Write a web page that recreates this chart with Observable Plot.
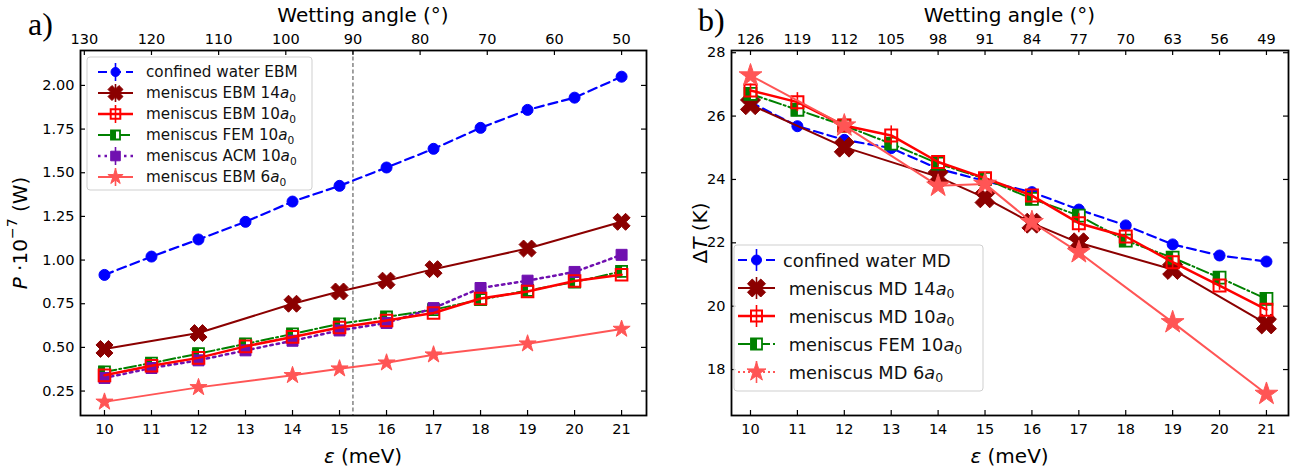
<!DOCTYPE html>
<html><head><meta charset="utf-8">
<script src="https://cdn.jsdelivr.net/npm/d3@7"></script>
<script src="https://cdn.jsdelivr.net/npm/@observablehq/plot@0.6"></script>
<style>
body{margin:0;background:#fff;}
#fig{position:relative;width:1303px;height:474px;overflow:hidden;background:#fff;}
#fig svg{position:absolute;top:0;overflow:visible;}
</style></head><body><div id="fig"></div>
<script>
// ---------- data ----------
const eps = [10,11,12,13,14,15,16,17,18,19,20,21];
const epsSub = [10,12,14,15,16,17,19,21];

// panel a: P (10^-7 W)
const aConfinedEBM = [0.915,1.02,1.118,1.219,1.335,1.425,1.53,1.637,1.757,1.86,1.93,2.05];
const aEBM14 = [0.491,0.582,0.75,0.82,0.882,0.948,1.066,1.219];
const aEBM10 = [0.34,0.395,0.44,0.506,0.56,0.614,0.654,0.697,0.78,0.82,0.88,0.916];
const aFEM10 = [0.36,0.41,0.464,0.52,0.577,0.635,0.674,0.716,0.773,0.826,0.874,0.935];
const aACM10 = [0.325,0.382,0.426,0.483,0.538,0.597,0.64,0.725,0.84,0.882,0.932,1.03];
const aEBM6 = [0.188,0.271,0.34,0.378,0.412,0.458,0.521,0.605];
const aYTicks = [0.25,0.5,0.75,1.0,1.25,1.5,1.75,2.0];
const aAngleTicks = [130,120,110,100,90,80,70,60,50];
const aDashedAngle = 90;

// panel b: Delta T (K)
const bConfinedMD = [26.44,25.68,25.25,24.99,24.34,23.95,23.6,23.05,22.55,21.95,21.6,21.41];
const bMD14 = [26.36,25.02,24.08,23.42,22.62,22.0,21.16,19.44];
const bMD10 = [26.81,26.44,25.7,25.39,24.55,24.04,23.49,22.62,22.2,21.39,20.65,19.89];
const bMD10Err = [0.2,0.3,0.15,0.3,0.15,0.15,0.15,0.3,0.15,0.2,0.15,0.2];
const bFEM10 = [26.7,26.2,25.7,25.13,24.5,24.02,23.39,22.86,22.07,21.53,20.9,20.23];
const bMD6 = [27.28,25.7,23.8,23.86,22.65,21.7,19.49,17.23];
const bYTicks = [18,20,22,24,26,28];
const bAngleTicks = [126,119,112,105,98,91,84,77,70,63,56,49];

// ---------- helpers ----------
const W = 1303, H = 474;
const FONT = "DejaVu Sans";
const C = {blue:"#0000ff", dark:"#8b0000", red:"#ff0000", green:"#008000", purple:"#7010b0", salmon:"#ff5555"};

function mk(fn){return {draw(c,size){fn(c,Math.sqrt(size/Math.PI));}};}
const symCircle = mk((c,r)=>{c.moveTo(r,0);c.arc(0,0,r,0,2*Math.PI);});
const symSquare = mk((c,r)=>{c.moveTo(-r,-r);c.lineTo(r,-r);c.lineTo(r,r);c.lineTo(-r,r);c.closePath();});
const symHalf = mk((c,r)=>{c.moveTo(-r,-r);c.lineTo(0,-r);c.lineTo(0,r);c.lineTo(-r,r);c.closePath();});
const symStar = mk((c,r)=>{const ri=r*0.382;for(let i=0;i<10;i++){const a=-Math.PI/2+i*Math.PI/5,rr=i%2?ri:r,x=rr*Math.cos(a),y=rr*Math.sin(a);i?c.lineTo(x,y):c.moveTo(x,y);}c.closePath();});
const symX = mk((c,r)=>{const L=r*Math.SQRT2/1.36,w=0.36*L;
  const pts=[[-w,-L],[w,-L],[w,-w],[L,-w],[L,w],[w,w],[w,L],[-w,L],[-w,w],[-L,w],[-L,-w],[-w,-w]];
  pts.forEach(([x,y],i)=>{const X=(x-y)/Math.SQRT2,Y=(x+y)/Math.SQRT2;i?c.lineTo(X,Y):c.moveTo(X,Y);});c.closePath();});

function series(xs, ys, s){
  const data = xs.map((x,i)=>({x, y: ys[i], e: s.err ? s.err[i] : 0}));
  const out = [Plot.line(data,{x:"x",y:"y",stroke:s.color,strokeWidth:s.lw,strokeDasharray:s.dash})];
  if (s.err) out.push(Plot.ruleX(data,{x:"x",y1:d=>d.y-d.e,y2:d=>d.y+d.e,stroke:s.color,strokeWidth:1.6}));
  s.layers.forEach(L=>out.push(Plot.dot(data,{x:"x",y:"y",symbol:L.sym,r:L.r,fill:L.fill,stroke:L.stroke,strokeWidth:L.sw})));
  return out;
}

function panel(cfg){
  const plotH = H - cfg.mt - cfg.mb, plotW = cfg.w - cfg.ml - cfg.mr, T = 5;
  const marks = [
    ...(cfg.before||[]),
    ...cfg.series.flatMap(s=>series(s.xs,s.ys,s)),
    Plot.frame({stroke:"black",strokeWidth:1.8}),
    Plot.ruleX(cfg.xTicks,{x:d=>d,insetTop:plotH-T,stroke:"black",strokeWidth:1.2}),
    Plot.ruleX(cfg.topEps,{x:d=>d,insetBottom:plotH-T,stroke:"black",strokeWidth:1.2}),
    Plot.ruleY(cfg.yTicks,{y:d=>d,insetRight:plotW-T,stroke:"black",strokeWidth:1.2}),
    Plot.ruleY(cfg.yTicks,{y:d=>d,insetLeft:plotW-T,stroke:"black",strokeWidth:1.2}),
    Plot.text(cfg.xTicks,{x:d=>d,frameAnchor:"bottom",lineAnchor:"top",dy:8,text:d=>String(d),fontSize:14.5,fill:"black"}),
    Plot.text(cfg.topEps,{x:d=>d,frameAnchor:"top",lineAnchor:"bottom",dy:-7,text:(d,i)=>String(cfg.topLabels[i]),fontSize:14.5,fill:"black"}),
    Plot.text(cfg.yTicks,{y:d=>d,frameAnchor:"left",textAnchor:"end",dx:-6,text:cfg.yFmt,fontSize:14.5,fill:"black"})
  ];
  return Plot.plot({
    width:cfg.w,height:H,marginLeft:cfg.ml,marginRight:cfg.mr,marginTop:cfg.mt,marginBottom:cfg.mb,
    x:{domain:cfg.xDomain,axis:null},y:{domain:cfg.yDomain,axis:null},
    style:{fontFamily:FONT,fontSize:"14.5px",color:"black",background:"transparent",overflow:"visible"},
    marks
  });
}

function rich(sel, parts, fs){
  let shift = 0;
  parts.forEach(([t,st])=>{
    const ts = sel.append("tspan").text(t);
    let dy = -shift;
    if (st==="i") ts.attr("font-style","italic");
    if (st==="sub"){ts.attr("font-size",fs*0.7);dy += fs*0.3;shift = fs*0.3;}
    else if (st==="sup"){ts.attr("font-size",fs*0.7);dy += -fs*0.4;shift = -fs*0.4;}
    else shift = 0;
    if (dy) ts.attr("dy",dy);
  });
}

function label(svg, x, y, parts, fs, opts={}){
  const t = d3.select(svg).append("text").attr("x",x).attr("y",y)
    .attr("font-family",opts.family||FONT).attr("font-size",fs).attr("fill","black")
    .attr("text-anchor",opts.anchor||"middle").attr("dominant-baseline",opts.base||"central")
    .style("white-space","pre");
  if (opts.rotate) t.attr("transform",`rotate(-90 ${x} ${y})`);
  rich(t, parts, fs);
}

function legend(svg, o){
  const g = d3.select(svg).append("g");
  g.append("rect").attr("x",o.x).attr("y",o.y).attr("width",o.w).attr("height",o.h).attr("rx",3)
    .attr("fill","white").attr("fill-opacity",0.85).attr("stroke","#cfcfcf");
  o.items.forEach((it,i)=>{
    const cy = o.y0 + i*o.dy, cx = (o.hx0+o.hx1)/2;
    g.append("line").attr("x1",o.hx0).attr("x2",o.hx1).attr("y1",cy).attr("y2",cy)
      .attr("stroke",it.color).attr("stroke-width",it.lw).attr("stroke-dasharray",it.dash||null);
    if (it.errbar) g.append("line").attr("x1",cx).attr("x2",cx).attr("y1",cy-o.eh).attr("y2",cy+o.eh)
      .attr("stroke",it.color).attr("stroke-width",1.6);
    it.layers.forEach(L=>{
      g.append("path").attr("d",d3.symbol(L.sym,Math.PI*L.r*L.r)()).attr("transform",`translate(${cx},${cy})`)
        .attr("fill",L.fill).attr("stroke",L.stroke||"none").attr("stroke-width",L.sw||0);
    });
    const t = g.append("text").attr("x",o.tx).attr("y",cy).attr("font-family",FONT).attr("font-size",o.fs)
      .attr("text-anchor","start").attr("dominant-baseline","central").attr("fill","#111").style("white-space","pre");
    rich(t, it.label, o.fs);
  });
}

// ---------- series styles ----------
const sBlue = r=>({color:C.blue,lw:2.2,dash:"9,5",layers:[{sym:symCircle,r,fill:C.blue,stroke:C.blue,sw:1}]});
const sDark = r=>({color:C.dark,lw:2,layers:[{sym:symX,r,fill:C.dark,stroke:C.dark,sw:1}]});
const sRed  = r=>({color:C.red,lw:2.5,layers:[{sym:symSquare,r,fill:"none",stroke:C.red,sw:2}]});
const sGreen= r=>({color:C.green,lw:2,dash:"12,3,2,3",layers:[{sym:symSquare,r,fill:"white",stroke:C.green,sw:1.8},{sym:symHalf,r,fill:C.green,stroke:C.green,sw:1}]});
const sPurple=r=>({color:C.purple,lw:2.5,dash:"2.5,4",layers:[{sym:symSquare,r,fill:C.purple,stroke:C.purple,sw:1}]});
const sSalmon=r=>({color:C.salmon,lw:2,layers:[{sym:symStar,r,fill:C.salmon,stroke:C.salmon,sw:1}]});

// ---------- panel a ----------
const angToEpsA = a => 21 - (a-50)/7;
const svgA = panel({
  w:650, ml:80, mr:4, mt:50, mb:59,
  xDomain:[9.49,21.53], yDomain:[0.11,2.2],
  xTicks:eps, yTicks:aYTicks, yFmt:d=>d.toFixed(2),
  topEps:aAngleTicks.map(angToEpsA), topLabels:aAngleTicks,
  before:[Plot.ruleX([angToEpsA(aDashedAngle)],{x:d=>d,stroke:"#444",strokeWidth:1,strokeDasharray:"4,2.5"})],
  series:[
    {xs:eps,ys:aConfinedEBM,...sBlue(5.5)},
    {xs:epsSub,ys:aEBM14,...sDark(8.5)},
    {xs:eps,ys:aFEM10,...sGreen(5.5)},
    {xs:eps,ys:aACM10,...sPurple(5.5)},
    {xs:eps,ys:aEBM10,...sRed(5.8)},
    {xs:epsSub,ys:aEBM6,...sSalmon(9)}
  ]
});
svgA.style.left = "0px";
document.getElementById("fig").appendChild(svgA);

label(svgA, 363, 15, [["Wetting angle (°)",""]], 20);
label(svgA, 363, 456, [["ε","i"],[" (meV)",""]], 20);
label(svgA, 20, 233, [["P","i"],[" ·10",""],["−7","sup"],[" (W)",""]], 20, {rotate:true});
label(svgA, 28, 35, [["a)",""]], 32, {family:"Liberation Serif", anchor:"start", base:"auto"});
legend(svgA, {x:87,y:57,w:225,h:133,y0:72,dy:21,hx0:98,hx1:133,tx:146,fs:15.2,eh:9,items:[
  {...sBlue(4.5),errbar:true,label:[["confined water EBM",""]]},
  {...sDark(7.5),errbar:true,label:[["meniscus EBM 14",""],["a","i"],["0","sub"]]},
  {...sRed(4.8),errbar:true,label:[["meniscus EBM 10",""],["a","i"],["0","sub"]]},
  {...sGreen(4.5),label:[["meniscus FEM 10",""],["a","i"],["0","sub"]]},
  {...sPurple(4.8),errbar:true,label:[["meniscus ACM 10",""],["a","i"],["0","sub"]]},
  {...sSalmon(8),errbar:true,label:[["meniscus EBM 6",""],["a","i"],["0","sub"]]}
]});

// ---------- panel b ----------
const angToEpsB = a => 10 + (126-a)/7;
const svgB = panel({
  w:653, ml:81, mr:15, mt:50, mb:59,
  xDomain:[9.595,21.47], yDomain:[16.55,28.07],
  xTicks:eps, yTicks:bYTicks, yFmt:d=>String(d),
  topEps:bAngleTicks.map(angToEpsB), topLabels:bAngleTicks,
  series:[
    {xs:eps,ys:bConfinedMD,...sBlue(5.5)},
    {xs:epsSub,ys:bMD14,...sDark(10)},
    {xs:eps,ys:bFEM10,...sGreen(6)},
    {xs:eps,ys:bMD10,...sRed(6),err:bMD10Err},
    {xs:epsSub,ys:bMD6,...sSalmon(12)}
  ]
});
svgB.style.left = "650px";
document.getElementById("fig").appendChild(svgB);

label(svgB, 359.5, 15, [["Wetting angle (°)",""]], 20);
label(svgB, 359.5, 456, [["ε","i"],[" (meV)",""]], 20);
label(svgB, 50, 233, [["Δ",""],["T","i"],[" (K)",""]], 20, {rotate:true});
label(svgB, 48, 31, [["b)",""]], 32, {family:"Liberation Serif", anchor:"start", base:"auto"});
legend(svgB, {x:84,y:245,w:249,h:146,y0:260,dy:28,hx0:88,hx1:125,tx:133,fs:17.8,eh:11,items:[
  {...sBlue(5),errbar:true,label:[["confined water MD",""]]},
  {...sDark(9),errbar:true,label:[[" meniscus MD 14",""],["a","i"],["0","sub"]]},
  {...sRed(5.5),errbar:true,label:[[" meniscus MD 10",""],["a","i"],["0","sub"]]},
  {...sGreen(5.5),label:[[" meniscus FEM 10",""],["a","i"],["0","sub"]]},
  {...sSalmon(10),errbar:true,dash:"2,3",label:[[" meniscus MD 6",""],["a","i"],["0","sub"]]}
]});
</script></body></html>
